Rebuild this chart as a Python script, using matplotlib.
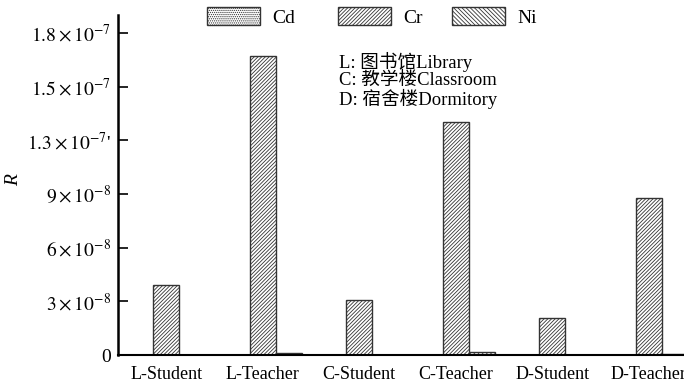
import numpy as np
import matplotlib
matplotlib.use("Agg")
import matplotlib.pyplot as plt

plt.rcParams['font.family'] = ['Liberation Serif', 'Noto Sans CJK SC', 'DejaVu Sans']
plt.rcParams['mathtext.fontset'] = 'stix'
plt.rcParams['hatch.color'] = '#666666'
plt.rcParams['hatch.linewidth'] = 0.6

# Risk values per group and metal
categories = ['L-Student', 'L-Teacher', 'C-Student', 'C-Teacher', 'D-Student', 'D-Teacher']
cd_values = [0.0, 0.0, 0.0, 0.0, 0.0, 0.0]
cr_values = [3.9e-8, 1.67e-7, 3.07e-8, 1.30e-7, 2.07e-8, 8.78e-8]
ni_values = [0.0, 1.1e-9, 0.0, 1.6e-9, 0.0, 6e-10]

ytick_values = [0, 3e-8, 6e-8, 9e-8, 1.2e-7, 1.5e-7, 1.8e-7]
ytick_labels = ['0', r'$3\times10^{-8}$', r'$6\times10^{-8}$', r'$9\times10^{-8}$',
                r"$1.3\times10^{-7}$'", r'$1.5\times10^{-7}$', r'$1.8\times10^{-7}$']

fig = plt.figure(figsize=(6.84, 3.84), dpi=100)
ax = fig.add_axes([118 / 684, 29 / 384, 579 / 684, 340 / 384])

x = np.arange(len(categories))
w = 0.27
bar_kw = dict(color='white', edgecolor='#333333', linewidth=1.0)
b1 = ax.bar(x - w, cd_values, w, hatch='........', label='Cd', **bar_kw)
b2 = ax.bar(x, cr_values, w, hatch='/////////', label='Cr', **bar_kw)
b3 = ax.bar(x + w, ni_values, w, hatch='\\' * 8, label='Ni', **bar_kw)

ax.set_xlim(-0.5, 5.5)
ax.set_ylim(0, 1.9e-7)
ax.set_xticks(x)
ax.set_xticklabels(categories, fontsize=13)
ax.set_yticks(ytick_values)
ax.set_yticklabels(ytick_labels, fontsize=14)
ax.tick_params(axis='x', length=0, pad=8)
ax.tick_params(axis='y', direction='in', length=7, width=1.2, pad=5)

for side in ('top', 'right'):
    ax.spines[side].set_visible(False)
ax.spines['left'].set_linewidth(1.8)
ax.spines['bottom'].set_linewidth(1.5)

ax.set_ylabel('R', fontsize=14, style='italic')
ax.yaxis.set_label_coords(-0.165, 0.515)

# one legend entry per metal, laid out in a row across the top
for handle, name, left in zip([b1, b2, b3], ['Cd', 'Cr', 'Ni'], [207, 338, 452]):
    fig.legend(handles=[handle], labels=[name], loc='upper left',
               bbox_to_anchor=(left / 684, 1 - 7 / 384), frameon=False,
               fontsize=14, handlelength=2.75, handleheight=1.05,
               handletextpad=0.6, borderaxespad=0, borderpad=0)

note = 'L: 图书馆Library\nC: 教学楼Classroom\nD: 宿舍楼Dormitory'
fig.text(339 / 684, 1 - 52 / 384, note, fontsize=13.4, va='top', ha='left',
         linespacing=0.98)

fig.savefig('out.png', dpi=100)
